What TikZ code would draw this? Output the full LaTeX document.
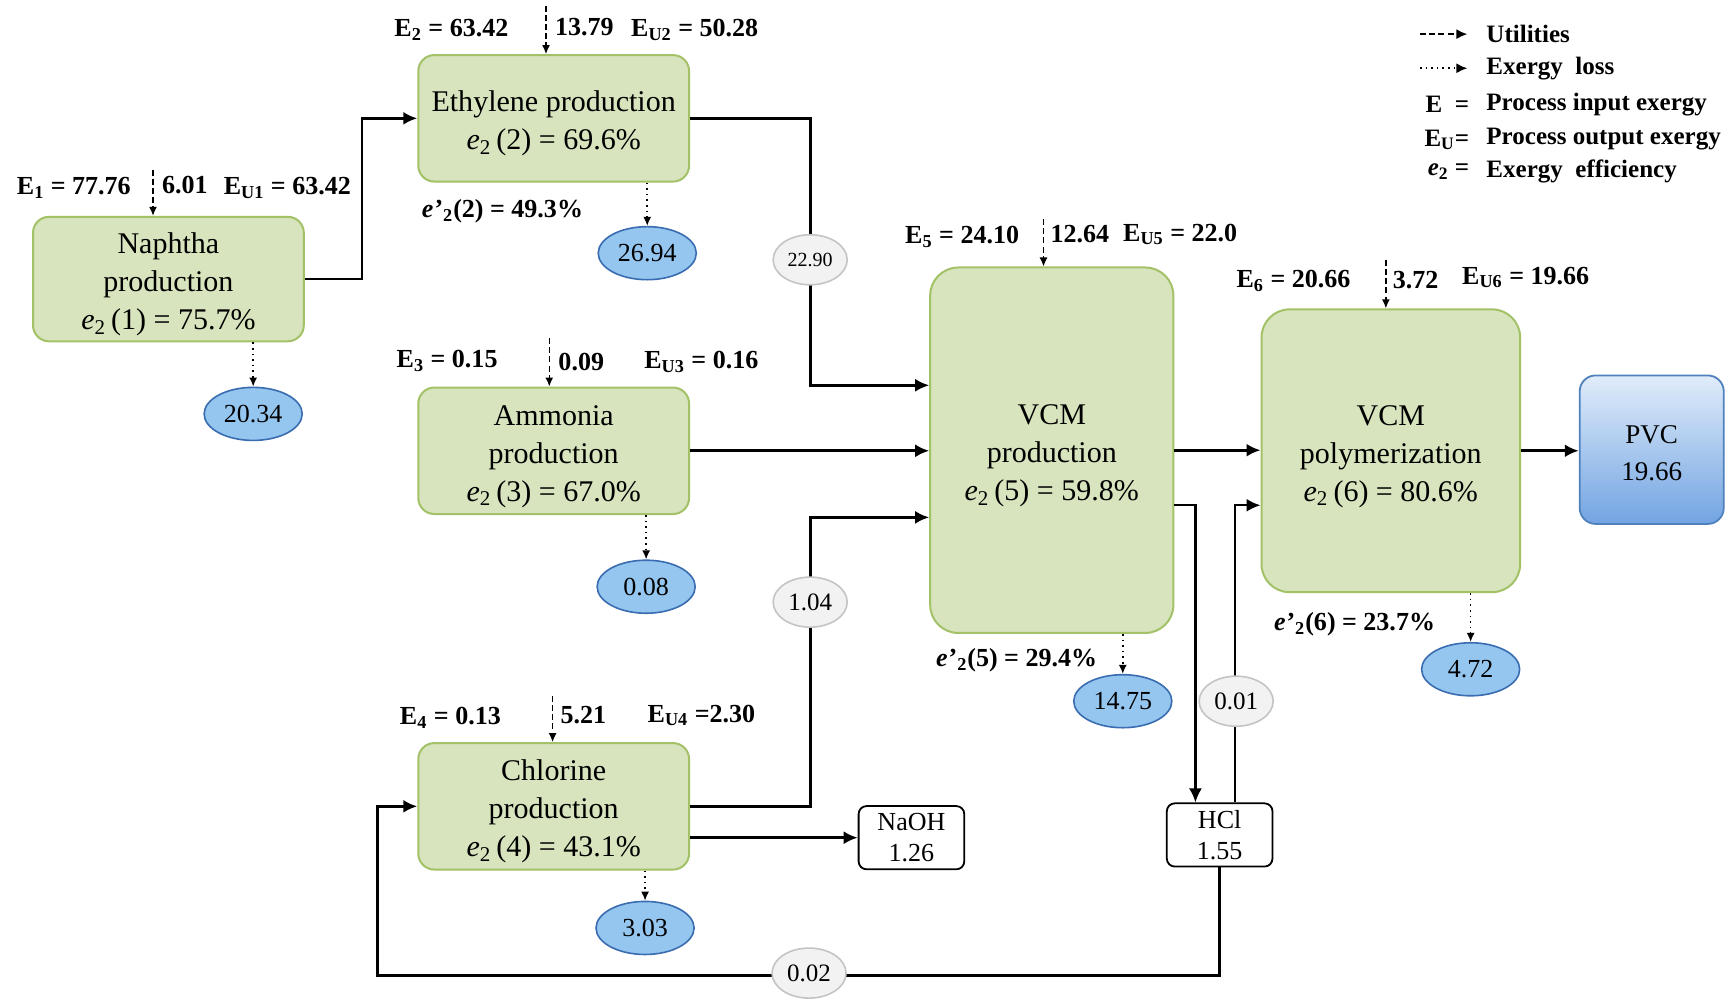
\documentclass[tikz,border=0pt]{standalone}
\usepackage{fontspec}
\setmainfont{Liberation Serif}
\usetikzlibrary{arrows.meta,shapes.geometric}
\definecolor{gfill}{HTML}{D7E4BD}
\definecolor{gline}{HTML}{A3C166}
\definecolor{bfill}{HTML}{95C6F0}
\definecolor{bline}{HTML}{3A6CB0}
\definecolor{grfill}{HTML}{F2F2F2}
\definecolor{grline}{HTML}{C4C4C4}
\definecolor{pvctop}{HTML}{E0ECFA}
\definecolor{pvcbot}{HTML}{72A4E2}
\definecolor{pvcline}{HTML}{4F81BD}
\newcommand{\etwo}[1]{\textit{e}\textsubscript{2}\,(#1)}
\newcommand{\eprm}[1]{\textbf{\textit{e}\kern0.5pt'\textsubscript{2}(#1)}}
\newcommand{\tpad}{\rule{0pt}{15.8pt}}
\begin{document}
\begin{tikzpicture}[x=0.55pt,y=-0.55pt,
  proc/.style={draw=gline, line width=1pt, fill=gfill, rounded corners=8pt, inner sep=0pt, align=center, font=\fontsize{15}{19}\selectfont, minimum width=135.3pt, minimum height=63.2pt},
  bigproc/.style={proc, rounded corners=14pt},
  loss/.style={ellipse, draw=bline, line width=0.8pt, fill=bfill, minimum width=49pt, minimum height=26.5pt, inner sep=0pt, font=\fontsize{13}{15}\selectfont},
  flow/.style={ellipse, draw=grline, line width=0.8pt, fill=grfill, minimum width=37pt, minimum height=25pt, inner sep=0pt, font=\fontsize{12.5}{15}\selectfont},
  prodbox/.style={draw=black, line width=0.9pt, fill=white, rounded corners=4pt, inner sep=0pt, align=center, font=\fontsize{13}{15.5}\selectfont, minimum width=52.8pt, minimum height=31.6pt},
  pvcbox/.style={draw=pvcline, line width=0.9pt, top color=pvctop, bottom color=pvcbot, rounded corners=8pt, inner sep=0pt, align=center, font=\fontsize{13.5}{18}\selectfont, minimum width=72pt, minimum height=74.2pt},
  elab/.style={anchor=west, inner sep=0pt, font=\bfseries\fontsize{13}{15}\selectfont},
  leg/.style={anchor=west, inner sep=0pt, font=\bfseries\fontsize{12.5}{15}\selectfont},
  arr/.style={draw, line width=1.35pt, -{Latex[length=7pt,width=6.5pt]}},
  util/.style={draw, line width=0.7pt, dash pattern=on 3pt off 1.6pt, -{Latex[length=4.5pt,width=4pt]}},
  lossarr/.style={draw, line width=0.8pt, dotted, -{Latex[length=4.5pt,width=4pt]}}
]
\fill[white] (0,0) rectangle (1568,908);
\useasboundingbox (0,0) rectangle (1568,908);

% process boxes
\node[proc, minimum height=62.2pt] (naph) at (153,253.5) {\tpad Naphtha\\production\\\etwo{1} = 75.7\%};
\node[proc] (eth) at (503,107.5) {\tpad Ethylene production\\\etwo{2} = 69.6\%};
\node[proc] (amm) at (503,409.5) {\tpad Ammonia\\production\\\etwo{3} = 67.0\%};
\node[proc] (chl) at (503,732.5) {\tpad Chlorine\\production\\\etwo{4} = 43.1\%};
\node[bigproc, minimum width=121.5pt, minimum height=182.6pt] (vcm) at (955.5,409) {\tpad VCM\\production\\\etwo{5} = 59.8\%};
\node[bigproc, minimum width=129.2pt, minimum height=141.3pt] (poly) at (1263.5,409.5) {\tpad VCM\\polymerization\\\etwo{6} = 80.6\%};
\node[pvcbox] (pvc) at (1500.5,408.5) {\rule{0pt}{12.5pt}PVC\\19.66};
\node[prodbox] (naoh) at (828,761) {NaOH\\1.26};
\node[prodbox] (hcl) at (1108,758.5) {HCl\\1.55};

% loss ellipses
\node[loss] (l1) at (230,376) {20.34};
\node[loss] (l2) at (588,230) {26.94};
\node[loss] (l3) at (587,533) {0.08};
\node[loss] (l4) at (586,843) {3.03};
\node[loss] (l5) at (1020,637) {14.75};
\node[loss] (l6) at (1336,608) {4.72};

% bend coordinates
\coordinate (j1) at (736,350);
\coordinate (j2) at (736,470);
\coordinate (j3) at (1086,459);
\coordinate (j4) at (1122,459);
\coordinate (j5) at (343,886);

% main connectors
\draw[arr] (naph.east) -- ++(52,0) |- (eth.west);
\draw[arr] (eth.east) -| (j1) -- (j1 -| vcm.west);
\draw[arr] (amm.east) -- (amm.east -| vcm.west);
\draw[arr] (chl.east) -| (j2) -- (j2 -| vcm.west);
\draw[arr] (chl.east |- naoh.west) -- (naoh.west);
\draw[arr] (vcm.east) -- (vcm.east -| poly.west);
\draw[arr, line width=1.1pt] (j3 -| vcm.east) -- (j3) -- (j3 |- hcl.north);
\draw[arr, line width=1.1pt] (j4 |- hcl.north) -- (j4) -- (j4 -| poly.west);
\draw[arr] (hcl.south) |- (j5) |- (chl.west);
\draw[arr] (poly.east) -- (poly.east -| pvc.west);

% flow labels
\node[flow, font=\fontsize{10}{12}\selectfont] (g1) at (736,236) {22.90};
\node[flow] (g2) at (736,547) {1.04};
\node[flow] (g3) at (1123,637) {0.01};
\node[flow] (g4) at (735,884) {0.02};

% loss arrows
\draw[lossarr] (l1.north |- naph.south) -- (l1.north);
\draw[lossarr] (l2.north |- eth.south) -- (l2.north);
\draw[lossarr] (l3.north |- amm.south) -- (l3.north);
\draw[lossarr] (l4.north |- chl.south) -- (l4.north);
\draw[lossarr] (l5.north |- vcm.south) -- (l5.north);
\draw[lossarr] (l6.north |- poly.south) -- (l6.north);

% utility arrows
\coordinate (u1) at (139,154);
\coordinate (u2) at (496,5);
\coordinate (u3) at (499,307);
\coordinate (u4) at (502,632);
\coordinate (u5) at (948,199);
\coordinate (u6) at (1259,236);
\draw[util] (u1) -- (u1 |- naph.north);
\draw[util] (u2) -- (u2 |- eth.north);
\draw[util] (u3) -- (u3 |- amm.north);
\draw[util] (u4) -- (u4 |- chl.north);
\draw[util] (u5) -- (u5 |- vcm.north);
\draw[util] (u6) -- (u6 |- poly.north);

% exergy labels
\node[elab] (a1) at (15,171) {E\textsubscript{1} = 77.76};
\node[elab] (b1) at (147,168) {6.01};
\node[elab] (c1) at (203,171) {E\textsubscript{U1} = 63.42};
\node[elab] (a2) at (358,27) {E\textsubscript{2} = 63.42};
\node[elab] (b2) at (504,25) {13.79};
\node[elab] (c2) at (573,27) {E\textsubscript{U2} = 50.28};
\node[elab] (a3) at (360,328) {E\textsubscript{3} = 0.15};
\node[elab] (b3) at (507,329) {0.09};
\node[elab] (c3) at (585,329) {E\textsubscript{U3} = 0.16};
\node[elab] (a4) at (363,652) {E\textsubscript{4} = 0.13};
\node[elab] (b4) at (509,650) {5.21};
\node[elab] (c4) at (588,650) {E\textsubscript{U4} =2.30};
\node[elab] (a5) at (822,215) {E\textsubscript{5} = 24.10};
\node[elab] (b5) at (954,213) {12.64};
\node[elab] (c5) at (1020,213) {E\textsubscript{U5} = 22.0};
\node[elab] (a6) at (1123,255) {E\textsubscript{6} = 20.66};
\node[elab] (b6) at (1265,254) {3.72};
\node[elab] (c6) at (1328,252) {E\textsubscript{U6} = 19.66};
\node[elab] (p2) at (383,192) {\eprm{2} = 49.3\%};
\node[elab] (p5) at (850,600) {\eprm{5} = 29.4\%};
\node[elab] (p6) at (1157,567) {\eprm{6} = 23.7\%};

% legend
\coordinate (la) at (1290,31);
\coordinate (lb) at (1333,31);
\coordinate (lc) at (1290,62);
\coordinate (ld) at (1333,62);
\draw[util, line width=0.8pt, -{Latex[length=5.5pt,width=5pt]}] (la) -- (lb);
\draw[lossarr, -{Latex[length=5.5pt,width=5pt]}] (lc) -- (ld);
\node[leg] (t1) at (1350,31) {Utilities};
\node[leg] (t2) at (1350,62) {Exergy\ \ loss};
\node[leg] (t3) at (1350,95) {Process input exergy};
\node[leg] (t4) at (1350,126) {Process output exergy};
\node[leg] (t5) at (1350,156) {Exergy\ \ efficiency};
\node[leg, anchor=east] (s3) at (1335,95) {E\ \ =};
\node[leg, anchor=east] (s4) at (1335,127) {E\textsubscript{U}=};
\node[leg, anchor=east] (s5) at (1335,156) {\textit{e}\textsubscript{2}\ =};
\end{tikzpicture}
\end{document}
